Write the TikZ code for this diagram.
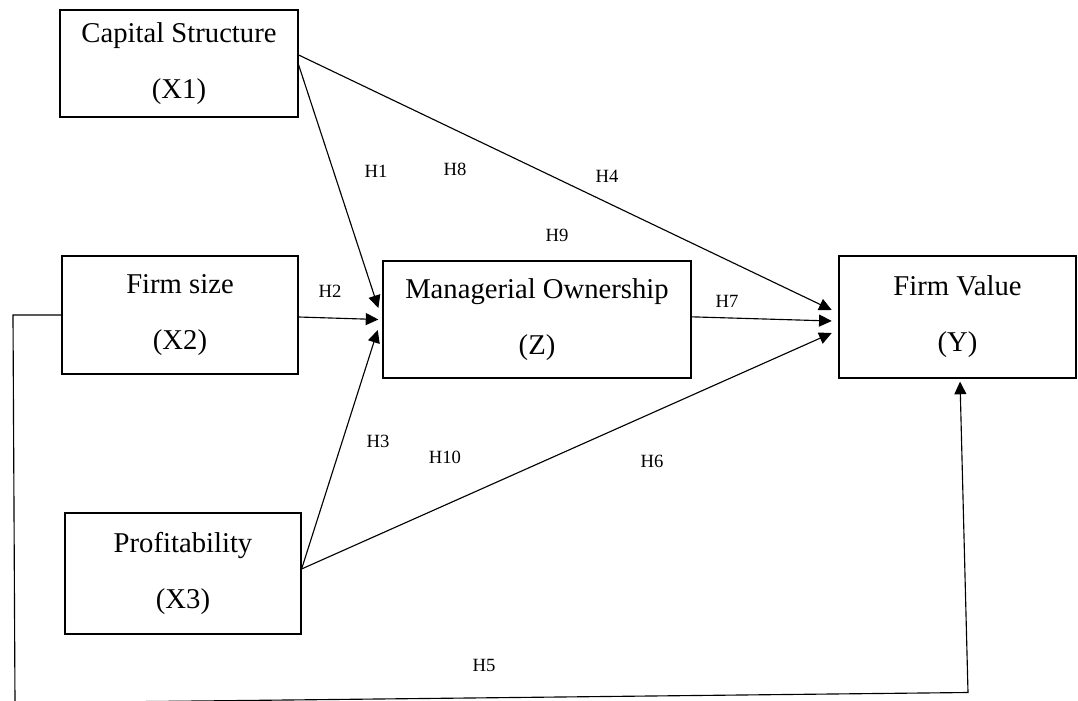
\documentclass[tikz,border=0pt]{standalone}
\usepackage{fontspec}
\setmainfont{Liberation Serif}
\usetikzlibrary{arrows.meta}

\begin{document}
\begin{tikzpicture}
  [x=0.75pt, y=-0.75pt,
   box/.style={draw, line width=0.9pt, align=center, inner sep=0pt,
     font=\fontsize{21.5}{42}\selectfont},
   hyp/.style={font=\fontsize{14}{16}\selectfont, inner sep=1pt},
   arr/.style={line width=0.85pt, -{Triangle[length=9.5pt,width=9pt]}}]
  \useasboundingbox (0,0) rectangle (1078,700);
  % Independent variables on the left
  \node[box, minimum width=178.5pt, minimum height=80.25pt] (x1) at (179,63.5) {Capital Structure\\(X1)};
  \node[box, minimum width=177pt, minimum height=88.5pt] (x2) at (180,315) {Firm size\\(X2)};
  \node[box, minimum width=177pt, minimum height=90.75pt] (x3) at (183,573.5) {Profitability\\(X3)};
  % Intervening and dependent variable
  \node[box, minimum width=231pt, minimum height=87.75pt] (z) at (537,319.5) {Managerial Ownership\\(Z)};
  \node[box, minimum width=177.75pt, minimum height=91.5pt] (y) at (957.5,317) {Firm Value\\(Y)};
  % Corners of the long H5 path
  \coordinate (c1) at (13,315);
  \coordinate (c2) at (15,703);
  \coordinate (c3) at (968,692.5);
  % Hypothesis paths
  \draw[arr] ([yshift=6.4pt]x1.east) -- ([xshift=-5pt,yshift=5.25pt]y.west);
  \draw[arr] ([yshift=-1pt]x1.east) -- ([xshift=-3pt,yshift=8.6pt]z.west);
  \draw[arr] ([yshift=-1.5pt]x2.east) -- ([xshift=-3pt]z.west);
  \draw[arr] ([yshift=3.4pt]x3.east) -- ([xshift=-3.5pt,yshift=-7.9pt]z.west);
  \draw[arr] ([yshift=3.4pt]x3.east) -- ([xshift=-5pt,yshift=-12pt]y.west);
  \draw[arr] ([yshift=2pt]z.east) -- ([xshift=-5pt,yshift=-3pt]y.west);
  \draw[arr] (x2.west) -- (c1) -- (c2) -- (c3) -- ([xshift=1.9pt,yshift=-2.25pt]y.south);
  % Labels
  \node[hyp] (h1) at (376,171) {H1};
  \node[hyp] (h8) at (455,169) {H8};
  \node[hyp] (h4) at (607,176) {H4};
  \node[hyp] (h9) at (557,235) {H9};
  \node[hyp] (h2) at (330,291) {H2};
  \node[hyp] (h7) at (727,301) {H7};
  \node[hyp] (h3) at (378,441) {H3};
  \node[hyp] (h10) at (445,457) {H10};
  \node[hyp] (h6) at (652,461) {H6};
  \node[hyp] (h5) at (484,665) {H5};
\end{tikzpicture}
\end{document}
